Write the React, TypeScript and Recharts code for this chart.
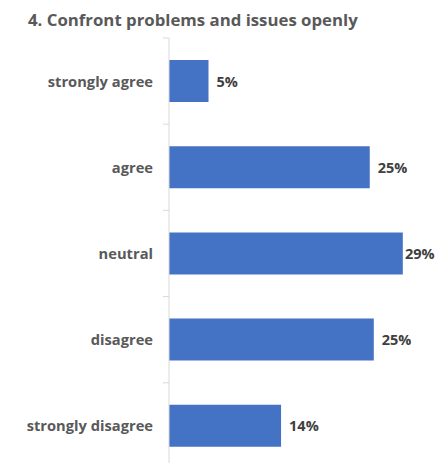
import React from "react";
import { BarChart, Bar, XAxis, YAxis, LabelList } from "recharts";

const categories = ["strongly agree", "agree", "neutral", "disagree", "strongly disagree"];
const values = [4.9, 24.9, 29.0, 25.4, 13.9];
const title = "4. Confront problems and issues openly";

const data = categories.map((c, i) => ({ name: c, value: values[i] }));

const FONT = "'Open Sans', sans-serif";
const CHART_W = 441;
const CHART_H = 475;
const MARGIN = { top: 38, right: 14, bottom: 6, left: 0 };
const AXIS_W = 169;
const LABEL_GAP = 16;
const BAND = (CHART_H - MARGIN.top - MARGIN.bottom) / categories.length;

const CategoryTick = (props: any) => {
  const { x, y, payload } = props;
  const ax = x + LABEL_GAP;
  const by = y - BAND / 2;
  return (
    <g>
      <line x1={ax - 6} y1={by} x2={ax} y2={by} stroke="#d9d9d9" strokeWidth={1} />
      <text
        x={x}
        y={y}
        dy={5.5}
        textAnchor="end"
        fill="#595959"
        fontFamily={FONT}
        fontWeight={700}
        fontSize={14.7}
      >
        {payload.value}
      </text>
    </g>
  );
};

const ValueLabel = (props: any) => {
  const { x, y, width, height, value } = props;
  const lx = Math.min(x + width + 8, 405);
  return (
    <text
      x={lx}
      y={y + height / 2}
      dy={5.5}
      textAnchor="start"
      fill="#404040"
      fontFamily={FONT}
      fontWeight={700}
      fontSize={14.5}
    >
      {Math.round(value) + "%"}
    </text>
  );
};

export default function App() {
  return (
    <div
      style={{
        position: "absolute",
        left: 0,
        top: 0,
        width: 441,
        height: 463,
        overflow: "hidden",
        background: "#ffffff",
      }}
    >
      <div
        style={{
          position: "absolute",
          left: 28,
          top: 8,
          fontFamily: FONT,
          fontWeight: 700,
          fontSize: 16.8,
          color: "#595959",
          whiteSpace: "nowrap",
        }}
      >
        {title}
      </div>
      <BarChart
        width={CHART_W}
        height={CHART_H}
        data={data}
        layout="vertical"
        margin={MARGIN}
        barSize={42}
      >
        <YAxis
          type="category"
          dataKey="name"
          width={AXIS_W}
          axisLine={{ stroke: "#d9d9d9" }}
          tickLine={false}
          tickSize={0}
          tickMargin={LABEL_GAP}
          tick={<CategoryTick />}
          interval={0}
        />
        <XAxis type="number" domain={[0, 32]} hide />
        <Bar dataKey="value" fill="#4472C4" isAnimationActive={false}>
          <LabelList dataKey="value" content={<ValueLabel />} />
        </Bar>
      </BarChart>
    </div>
  );
}
